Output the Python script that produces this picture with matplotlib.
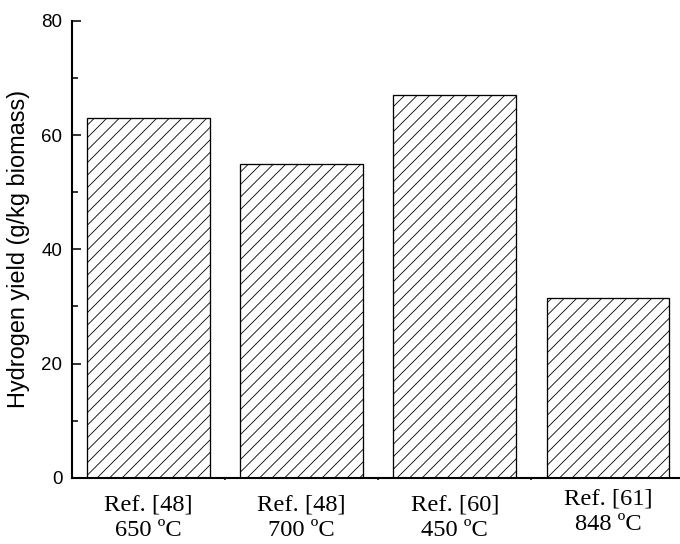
import matplotlib
matplotlib.use("Agg")
import matplotlib.pyplot as plt

# data
refs = ["Ref. [48]", "Ref. [48]", "Ref. [60]", "Ref. [61]"]
temps = ["650 \u00baC", "700 \u00baC", "450 \u00baC", "848 \u00baC"]
h2_yield = [63.0, 55.0, 67.0, 31.5]
label_shift = [0, 0, 0, 6]  # last category label sits a little higher (px)

plt.rcParams["hatch.linewidth"] = 0.8
plt.rcParams["hatch.color"] = "black"

DPI = 75
fig = plt.figure(figsize=(680 / DPI, 544 / DPI), dpi=DPI)
ax = fig.add_axes([0.1054, 0.1219, 0.8946, 0.8395])

x = list(range(len(h2_yield)))
ax.bar(x, h2_yield, width=0.8, color="white", edgecolor="black",
       linewidth=1.25, hatch="//")

ax.set_xlim(-0.5, 3.47)
ax.set_ylim(0, 80)

for side in ["top", "right"]:
    ax.spines[side].set_visible(False)
for side in ["left", "bottom"]:
    ax.spines[side].set_linewidth(2.0)

ax.set_yticks([0, 20, 40, 60, 80])
ax.set_yticks([10, 30, 50, 70], minor=True)
ax.tick_params(axis="y", which="major", direction="in", length=8.5, width=1.5,
               pad=9, labelsize=18)
ax.tick_params(axis="y", which="minor", direction="in", length=5.5, width=1.5)
for t in ax.get_yticklabels():
    t.set_fontfamily("Liberation Sans")

ax.set_xticks(x)
ax.set_xticklabels([])
ax.tick_params(axis="x", which="major", length=0)
ax.set_xticks([0.5, 1.5, 2.5], minor=True)
ax.tick_params(axis="x", which="minor", direction="out", length=2, width=1.5)

for i in x:
    ax.annotate(refs[i] + "\n" + temps[i], xy=(i, 0),
                xycoords=("data", "axes fraction"),
                xytext=(0, -16.5 + label_shift[i] * 72 / DPI),
                textcoords="offset points", ha="center", va="top",
                fontsize=23.5, family="Liberation Serif", linespacing=1.28)

ax.set_ylabel("Hydrogen yield (g/kg biomass)", fontsize=22.5,
              family="Liberation Sans", labelpad=11)

fig.savefig("out.png", dpi=DPI)
